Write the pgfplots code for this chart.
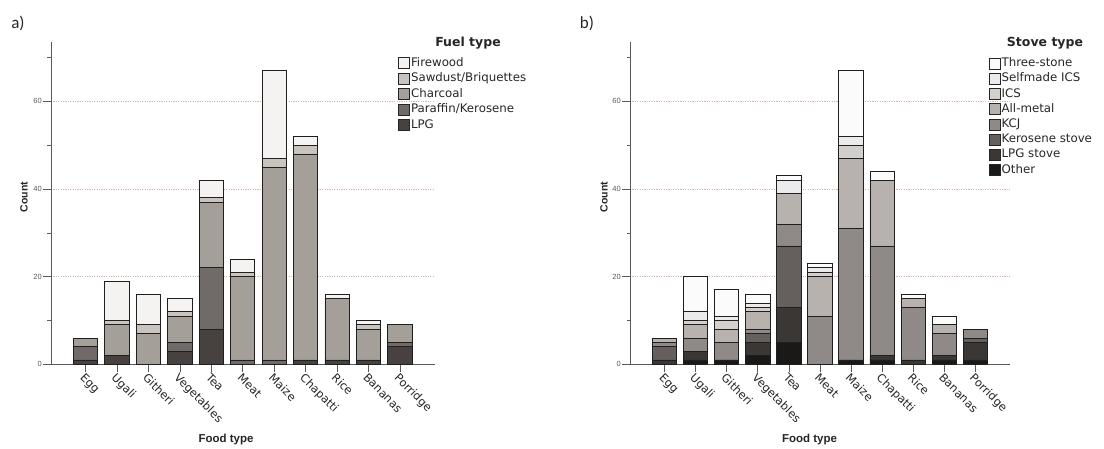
\documentclass[border=0pt]{standalone}
\usepackage{fontspec}
\usepackage{pgfplots}
\usepackage{pgfplotstable}
\pgfplotsset{compat=1.18}
\newfontfamily\dvs{DejaVu Sans}
\newfontfamily\lib{Liberation Sans}
\newfontfamily\carl{Carlito}

% fuel types
\definecolor{fwood}{HTML}{F5F3F2}
\definecolor{sawd}{HTML}{C9C4C0}
\definecolor{charc}{HTML}{A59F9A}
\definecolor{paraf}{HTML}{706B68}
\definecolor{lpg}{HTML}{47423F}
% stove types
\definecolor{three}{HTML}{FBFBFB}
\definecolor{selfics}{HTML}{EBEAEC}
\definecolor{ics}{HTML}{D2CFCC}
\definecolor{allmet}{HTML}{B7B2AE}
\definecolor{kcj}{HTML}{8F8A87}
\definecolor{kero}{HTML}{65605D}
\definecolor{lpgst}{HTML}{3B3735}
\definecolor{other}{HTML}{1B1918}
\definecolor{gridpink}{HTML}{D6B4B4}

% counts per food type (0 Egg ... 10 Porridge)
\pgfplotstableread{
x LPG Paraffin Charcoal Sawdust Firewood
0 1 3 2 0 0
1 2 0 7 1 9
2 0 0 7 2 7
3 3 2 6 1 3
4 8 14 15 1 4
5 0 1 19 1 3
6 0 1 44 2 20
7 1 0 47 2 2
8 1 0 14 0 1
9 1 0 7 1 1
10 4 1 4 0 0
}\fuel

\pgfplotstableread{
x Other LPGst Kero KCJ Allmet ICS Selfics Three
0 0 1 3 1 1 0 0 0
1 1 2 0 3 3 1 2 8
2 1 0 0 4 3 2 1 6
3 2 3 2 1 4 1 1 2
4 5 8 14 5 7 0 3 1
5 0 0 0 11 9 1 1 1
6 1 0 0 30 16 3 2 15
7 1 1 0 25 15 0 0 2
8 0 1 0 12 2 0 0 1
9 1 1 0 5 2 0 0 2
10 1 4 1 2 0 0 0 0
}\stove

\pgfplotsset{
  panel/.style={
    ybar stacked, bar width=24.3pt,
    scale only axis, anchor=south west, height=322.6pt,
    ymin=0, ymax=73.6, xmax=11.115,
    axis x line=bottom, axis y line=left,
    axis line style={-, draw=black!65, line width=0.6pt},
    xtick={0,...,10},
    xticklabels={Egg,Ugali,Githeri,Vegetables,Tea,Meat,Maize,Chapatti,Rice,Bananas,Porridge},
    ytick={0,20,40,60}, minor ytick={10,30,50,70},
    tick align=outside, major tick length=8pt, minor tick length=3.5pt,
    tick style={draw=black!65, line width=0.6pt},
    ymajorgrids, grid style={draw=gridpink, dash pattern=on 1.2pt off 1.2pt, line width=0.6pt},
    xticklabel style={rotate=-45, anchor=north west, font=\dvs\fontsize{11.4}{12}\selectfont, text=black!85, inner sep=0pt},
    yticklabel style={font=\lib\fontsize{7.5}{8}\selectfont, text=black!65, inner sep=1pt},
    /pgf/number format/assume math mode=true,
    every axis plot/.append style={draw=black!88, line width=0.75pt,
      legend image code/.code={\draw[##1,draw=black!85,line width=0.6pt] (0pt,-5.5pt) rectangle (11pt,5.5pt);}},
    reverse legend,
    legend cell align=left,
    legend style={draw=none, fill=none, anchor=north west, inner sep=0pt,
      font=\dvs\fontsize{11.8}{14}\selectfont, text=black!85,
      nodes={inner sep=1.5pt, text height=8.8pt, text depth=2.4pt}},
  }
}

\begin{document}
\begin{tikzpicture}
\useasboundingbox (0,0) rectangle (1104pt,448pt);

% a) fuel type
\begin{axis}[panel, at={(51pt,83.7pt)}, width=384pt, xmin=-1.097,
  legend style={at={(axis description cs:0.903,0.957)}, row sep=1.4pt}]
\addplot[fill=lpg] table[x=x,y=LPG]{\fuel}; \addlegendentry{LPG}
\addplot[fill=paraf] table[x=x,y=Paraffin]{\fuel}; \addlegendentry{Paraffin/Kerosene}
\addplot[fill=charc] table[x=x,y=Charcoal]{\fuel}; \addlegendentry{Charcoal}
\addplot[fill=sawd] table[x=x,y=Sawdust]{\fuel}; \addlegendentry{Sawdust/Briquettes}
\addplot[fill=fwood] table[x=x,y=Firewood]{\fuel}; \addlegendentry{Firewood}
\end{axis}

% b) stove type
\begin{axis}[panel, at={(630pt,83.7pt)}, width=380pt, xmin=-1.11,
  legend style={at={(axis description cs:0.943,0.955)}, row sep=1.0pt}]
\addplot[fill=other] table[x=x,y=Other]{\stove}; \addlegendentry{Other}
\addplot[fill=lpgst] table[x=x,y=LPGst]{\stove}; \addlegendentry{LPG stove}
\addplot[fill=kero] table[x=x,y=Kero]{\stove}; \addlegendentry{Kerosene stove}
\addplot[fill=kcj] table[x=x,y=KCJ]{\stove}; \addlegendentry{KCJ}
\addplot[fill=allmet] table[x=x,y=Allmet]{\stove}; \addlegendentry{All-metal}
\addplot[fill=ics] table[x=x,y=ICS]{\stove}; \addlegendentry{ICS}
\addplot[fill=selfics] table[x=x,y=Selfics]{\stove}; \addlegendentry{Selfmade ICS}
\addplot[fill=three] table[x=x,y=Three]{\stove}; \addlegendentry{Three-stone}
\end{axis}

% panel letters, legend titles, axis titles
\node[font=\carl\fontsize{17}{20}\selectfont, text=black!85] at (18pt,425pt) {a)};
\node[font=\carl\fontsize{17}{20}\selectfont, text=black!85] at (587pt,425pt) {b)};
\node[font=\dvs\bfseries\fontsize{12.5}{14}\selectfont, text=black!85] at (468pt,405pt) {Fuel type};
\node[font=\dvs\bfseries\fontsize{12.5}{14}\selectfont, text=black!85] at (1045pt,405pt) {Stove type};
\node[font=\lib\bfseries\fontsize{10.5}{12}\selectfont, rotate=90, text=black!85] at (24pt,251pt) {Count};
\node[font=\lib\bfseries\fontsize{10.5}{12}\selectfont, rotate=90, text=black!85] at (604pt,251pt) {Count};
\node[font=\lib\bfseries\fontsize{11.5}{13}\selectfont, text=black!85] at (226pt,8pt) {Food type};
\node[font=\lib\bfseries\fontsize{11.5}{13}\selectfont, text=black!85] at (809.5pt,8pt) {Food type};
\end{tikzpicture}
\end{document}
